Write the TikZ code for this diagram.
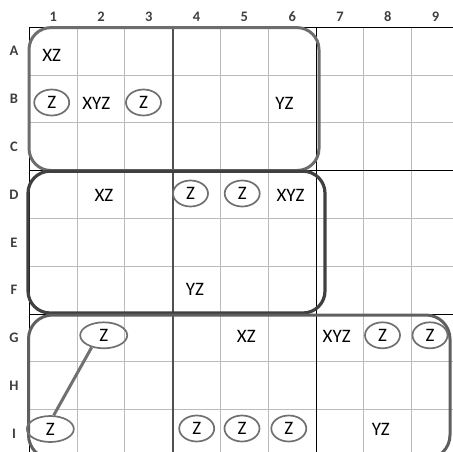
\documentclass[tikz,border=0pt]{standalone}
\usepackage{fontspec}
\setmainfont{Carlito}
\usetikzlibrary{shapes.geometric}
\definecolor{gridgray}{HTML}{BBBBBB}
\definecolor{headgray}{HTML}{404040}
\definecolor{ringgray}{HTML}{707070}
\definecolor{boxlight}{HTML}{6D6D6D}
\definecolor{boxdark}{HTML}{404040}
\definecolor{boxmid}{HTML}{5F5F5F}
\definecolor{bandgray}{HTML}{505050}
\begin{document}
\begin{tikzpicture}[x=1pt,y=-1pt,
  lbl/.style={font=\fontsize{19}{20}\selectfont,inner sep=0pt},
  hdr/.style={font=\fontsize{14.5}{15}\selectfont\bfseries,text=headgray},
  zcell/.style={lbl,draw=ringgray,line width=1.7pt,ellipse,minimum width=35pt,minimum height=26pt},
  zwide/.style={zcell,minimum width=47pt}]
  \useasboundingbox (0,0) rectangle (453,451);
  \clip (0,0) rectangle (453,451);
  % cell lines
  \foreach \i in {1,...,9} {
    \draw[gridgray,line width=0.9pt] ({29.3+47.8*\i},27.3) -- ({29.3+47.8*\i},460);
    \draw[gridgray,line width=0.9pt] (29.3,{27.3+47.8*\i}) -- (460,{27.3+47.8*\i});
  }
  % block lines
  \draw[black,line width=1.2pt] (29.3,460) -- (29.3,27.3) -- (460,27.3);
  \draw[black,line width=1.2pt] (29.3,170.7) -- (460,170.7);
  \draw[black,line width=1.2pt] (29.3,314.1) -- (460,314.1);
  \draw[black,line width=1.2pt] (316.1,27.3) -- (316.1,460);
  \draw[bandgray,line width=2pt] (172.7,27.3) -- (172.7,460);
  % headers
  \foreach \c in {1,...,9}
    \node[hdr] (col\c) at ({53.2+47.8*(\c-1)},17) {\c};
  \foreach \r [count=\k from 0] in {A,B,C,D,E,F,G,H,I}
    \node[hdr] (row\r) at (14,{51.2+47.8*\k}) {\r};
  % boxes
  \draw[boxlight,line width=3pt,rounded corners=22pt] (29,27.6) rectangle (319,170.5);
  \draw[boxdark,line width=3.2pt,rounded corners=22pt] (28,171.2) rectangle (325,313);
  \draw[boxmid,line width=3pt,rounded corners=24pt] (28.5,315) rectangle (450,459);
  % entries
  \node[lbl] (a1) at (51.7,55) {XZ};
  \node[zcell] (b1) at (51.7,102.5) {Z};
  \node[lbl] (b2) at (96.3,103) {XYZ};
  \node[zcell] (b3) at (143.5,102.5) {Z};
  \node[lbl] (b6) at (284.5,103) {YZ};
  \node[lbl] (d2) at (104,195) {XZ};
  \node[zcell] (d4) at (190.5,193.5) {Z};
  \node[zcell] (d5) at (242.2,193.5) {Z};
  \node[lbl] (d6) at (290.5,195) {XYZ};
  \node[lbl] (f4) at (195,289.5) {YZ};
  \node[zwide] (g2) at (103.7,335.3) {Z};
  \node[lbl] (g5) at (246.3,336) {XZ};
  \node[lbl] (g7) at (336.7,336) {XYZ};
  \node[zcell] (g8) at (382.5,335.3) {Z};
  \node[zcell] (g9) at (430,335.3) {Z};
  \node[zwide] (i1) at (50.3,429) {Z};
  \node[zcell] (i4) at (196.7,428.5) {Z};
  \node[zcell] (i5) at (242,428.5) {Z};
  \node[zcell] (i6) at (288.8,428.5) {Z};
  \node[lbl] (i8) at (380.8,429.5) {YZ};
  % link
  \draw[ringgray,line width=3pt] (g2.225) -- (i1.76);
\end{tikzpicture}
\end{document}
